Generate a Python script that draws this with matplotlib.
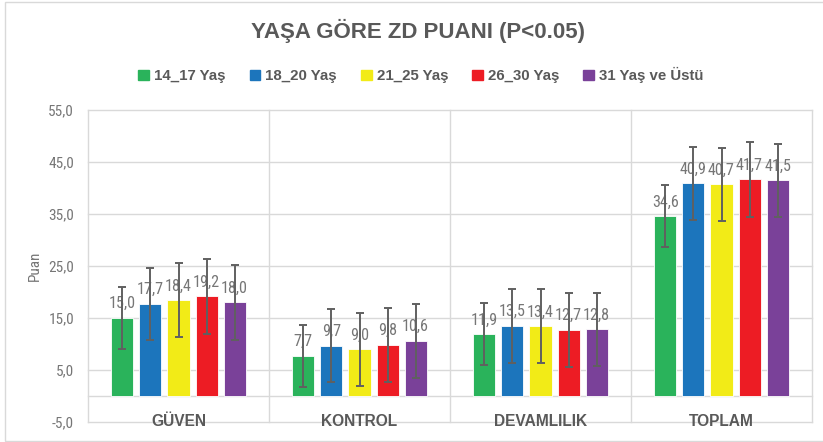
import matplotlib
matplotlib.use("Agg")
import matplotlib.pyplot as plt
import matplotlib.patches as mpatches
from matplotlib import font_manager as fm
import numpy as np

categories = ["GÜVEN", "KONTROL", "DEVAMLILIK", "TOPLAM"]
series_names = ["14_17 Yaş", "18_20 Yaş", "21_25 Yaş", "26_30 Yaş", "31 Yaş ve Üstü"]
means_14_17 = [15.0, 7.7, 11.9, 34.6]
means_18_20 = [17.7, 9.7, 13.5, 40.9]
means_21_25 = [18.4, 9.0, 13.4, 40.7]
means_26_30 = [19.2, 9.8, 12.7, 41.7]
means_31_up = [18.0, 10.6, 12.8, 41.5]
sd_14_17 = [5.9, 6.0, 6.0, 5.9]
sd_18_20 = [7.0, 7.0, 7.1, 7.0]
sd_21_25 = [7.1, 7.0, 7.1, 7.0]
sd_26_30 = [7.2, 7.2, 7.2, 7.2]
sd_31_up = [7.2, 7.1, 7.0, 7.0]
y_ticks = [-5, 5, 15, 25, 35, 45, 55]
title = "YAŞA GÖRE ZD PUANI (P<0.05)"
y_label = "Puan"

means = [means_14_17, means_18_20, means_21_25, means_26_30, means_31_up]
sds = [sd_14_17, sd_18_20, sd_21_25, sd_26_30, sd_31_up]
colors = ["#2AB35B", "#1C75BC", "#F2EB17", "#ED1C24", "#7A4199"]

names = {f.name for f in fm.fontManager.ttflist}
NARROW = "Liberation Sans"
for cand in ["Liberation Sans Narrow", "Roboto Condensed", "Archivo Narrow", "PT Sans Narrow"]:
    if cand in names:
        NARROW = cand
        break
BOLD = "Liberation Sans"
GRAY = "#595959"
LGRAY = "#767676"
GRID = "#D9D9D9"

W, H = 823, 442
fig = plt.figure(figsize=(W / 100, H / 100), dpi=100)
ax = fig.add_axes([88 / W, 1 - 422 / H, (812 - 88) / W, (422 - 110) / H])

x = np.arange(len(categories))
step = 0.155
bw = 0.122
for i, (m, s, c) in enumerate(zip(means, sds, colors)):
    xs = x + (i - 2) * step
    ax.bar(xs, m, width=bw, color=c, edgecolor="white", linewidth=0.6, zorder=2)
    ax.errorbar(xs, m, yerr=s, fmt="none", ecolor="#606060", elinewidth=1.4,
                capsize=2.6, capthick=1.4, zorder=4)
    for xi, v in zip(xs, m):
        ax.annotate(f"{v:.1f}".replace(".", ","), (xi, v), xytext=(0, 7),
                    textcoords="offset points", ha="center", va="baseline",
                    fontsize=11.6, color=LGRAY, family=NARROW, zorder=3)

ax.set_xlim(-0.5, len(categories) - 0.5)
ax.set_ylim(-5, 55)
ax.set_yticks(y_ticks)
ax.set_yticklabels([f"{t:.1f}".replace(".", ",") for t in y_ticks],
                   family=NARROW, fontsize=11, color=LGRAY)
ax.tick_params(axis="y", length=0, pad=10)
ax.set_xticks([])
for sp in ax.spines.values():
    sp.set_visible(False)
for t in y_ticks + [0]:
    ax.axhline(t, color=GRID, lw=1.0, zorder=1, clip_on=False)
for b in np.arange(-0.5, len(categories), 1.0):
    ax.axvline(b, color=GRID, lw=1.0, zorder=1, clip_on=False)
for xi, cat in zip(x, categories):
    ax.text(xi, -5.75, cat, ha="center", va="baseline", fontsize=11.2,
            fontweight="bold", color=GRAY, family=BOLD, zorder=5)

ax.set_ylabel(y_label, family=NARROW, fontsize=11, color=LGRAY)
ax.yaxis.set_label_coords(-(88 - 35) / (812 - 88), 0.5)
ax.yaxis.label.set_va("center")

fig.text(0.5073, 1 - 31 / H, title, ha="center", va="center", fontsize=16,
         fontweight="bold", color=GRAY, family=BOLD)

handles = [mpatches.Patch(color=c, label=n) for c, n in zip(colors, series_names)]
leg = fig.legend(handles=handles, loc="center", bbox_to_anchor=(421 / W, 1 - 75 / H),
                 ncol=5, frameon=False, handlelength=0.7, handleheight=0.7,
                 handletextpad=0.35, columnspacing=1.6,
                 prop={"family": BOLD, "weight": "bold", "size": 10.8})
for t in leg.get_texts():
    t.set_color(GRAY)

fig.add_artist(mpatches.Rectangle((5 / W, 1 / H), 1.0, 1 - 2.5 / H,
                                  transform=fig.transFigure, fill=False,
                                  edgecolor=GRID, lw=1.0))

fig.savefig("out.png", dpi=100)
